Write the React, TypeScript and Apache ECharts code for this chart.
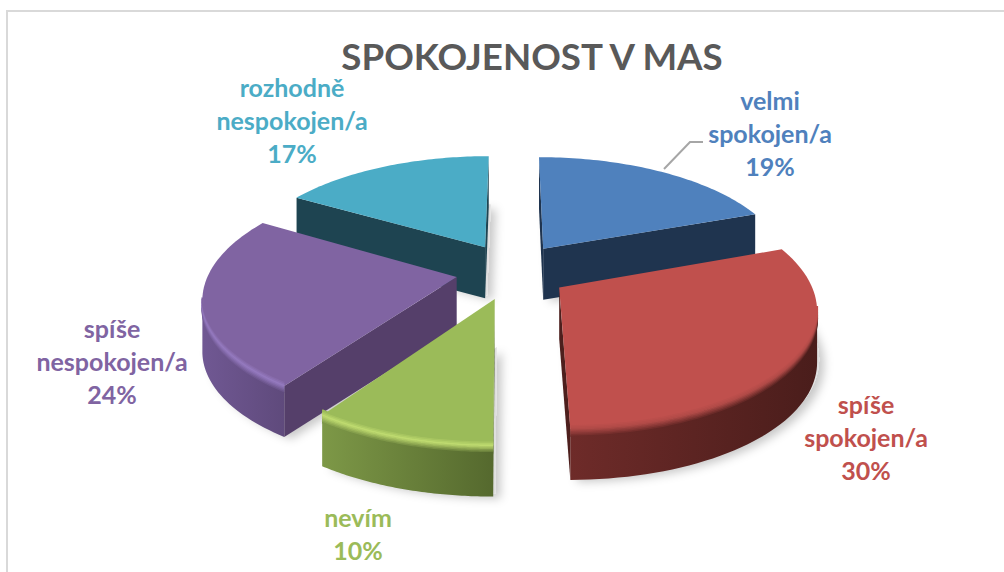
import React, { useEffect, useRef } from "react";
import * as echarts from "echarts";

const titleText = "SPOKOJENOST V MAS";
const categories = ["velmi\nspokojen/a", "spíše\nspokojen/a", "nevím", "spíše\nnespokojen/a", "rozhodně\nnespokojen/a"];
const shares = [19.45, 30.45, 9.75, 23.85, 16.5];

// Appearance of each slice, in the order of the data.
const topColors = ["#4f81bd", "#c0504d", "#9bbb59", "#8064a2", "#4bacc6"];
const faceColors = ["#1f344f", "#4d1f1d", "#56692f", "#553f6a", "#1e4451"];
const wallLeft = ["#1f344f", "#6e2b29", "#7d9847", "#705893", "#1e4451"];
const wallRight = ["#1f344f", "#4a1d1b", "#55692e", "#5f4a7c", "#1e4451"];
const glint = ["#4f81bd", "#b04a47", "#c0dc70", "#957ac0", "#4bacc6"];
const paintOrder = [1, 3, 4, 2, 0];
const labelAnchors = [[770, 133], [866, 437], [358, 533], [112, 361], [292, 120]];

const CX = 512, CY = 271, RADIUS = 240, EXPLODE_X = 54.5, EXPLODE_Y = 60, DEPTH = 51;
const SX = 1.03, SY = 0.47, PERSP = 0.00067;

function project(wx: number, wy: number, drop = 0): number[] {
  const s = 1 / (1 - PERSP * wy);
  return [CX + SX * wx * s, CY + SY * wy * s + drop];
}

function mix(a: string, b: string, t: number): string {
  const p = (c: string) => [1, 3, 5].map((i) => parseInt(c.slice(i, i + 2), 16));
  const A = p(a), B = p(b);
  return "rgb(" + A.map((v, i) => Math.round(v + (B[i] - v) * t)).join(",") + ")";
}

function renderSlice(params: any, api: any) {
  const i = params.dataIndex;
  const total = shares.reduce((s, v) => s + v, 0);
  const before = shares.slice(0, i).reduce((s, v) => s + v, 0);
  const a0 = (before / total) * Math.PI * 2;
  const a1 = ((before + api.value(0)) / total) * Math.PI * 2;
  const mid = (a0 + a1) / 2;
  const ox = EXPLODE_X * Math.sin(mid), oy = -EXPLODE_Y * Math.cos(mid);
  const pt = (a: number, r: number, drop = 0) =>
    project(ox + r * Math.sin(a), oy - r * Math.cos(a), drop);

  const N = 60;
  const angles: number[] = [];
  for (let k = 0; k <= N; k++) angles.push(a0 + ((a1 - a0) * k) / N);

  const apex = pt(0, 0);
  const arc = angles.map((a) => pt(a, RADIUS));
  const base = paintOrder[i] * 100;
  const children: any[] = [];

  // soft ground shadow
  const ground = [pt(0, 0, DEPTH - 4), ...angles.map((a) => pt(a, RADIUS, DEPTH - 4))];
  children.push({
    type: "polygon", z2: base,
    shape: { points: ground.map((p) => [p[0] + 2, p[1] + 1]) },
    style: { fill: "#dedede", shadowBlur: 10, shadowColor: "rgba(0,0,0,0.22)", shadowOffsetX: 5, shadowOffsetY: 5 },
  });

  // the two cut faces, drawn when they turn towards the viewer
  const quad = (a: number[], b: number[]) => [a, b, [b[0], b[1] + DEPTH], [a[0], a[1] + DEPTH]];
  const area = (q: number[][]) =>
    q.reduce((s, p, k) => {
      const n = q[(k + 1) % q.length];
      return s + p[0] * n[1] - n[0] * p[1];
    }, 0);
  const first = quad(apex, arc[0]);
  const last = quad(apex, arc[N]);
  if (area(first) < 0) children.push({ type: "polygon", z2: base + 1, shape: { points: first }, style: { fill: faceColors[i] } });
  if (area(last) > 0) children.push({ type: "polygon", z2: base + 1, shape: { points: last }, style: { fill: faceColors[i] } });

  // rim wall: only the run of the arc that runs right-to-left is seen
  const seen: number[][] = [];
  arc.forEach((p, k) => {
    const nb = k < N ? arc[k + 1] : arc[k - 1];
    const going = k < N ? p[0] > nb[0] : nb[0] > p[0];
    if (going) seen.push(p);
  });
  const grad = (l: string, r: string) => ({
    type: "linear", x: 0, y: 0, x2: 1, y2: 0,
    colorStops: [{ offset: 0, color: l }, { offset: 1, color: r }],
  });
  if (seen.length > 1) {
    const wall = [...seen, ...seen.slice().reverse().map((p) => [p[0], p[1] + DEPTH])];
    children.push({
      type: "polygon", z2: base + 2, shape: { points: wall },
      style: { fill: grad(wallLeft[i], wallRight[i]) },
    });
  }

  // top face
  children.push({
    type: "polygon", z2: base + 3, shape: { points: [apex, ...arc] },
    style: { fill: topColors[i] },
  });

  // rounded bevel between top and wall
  if (seen.length > 1) {
    const steps = 8;
    for (let s = 0; s <= steps; s++) {
      const t = s / steps;
      const stroke = (w: string) => (t < 0.4 ? mix(topColors[i], glint[i], t / 0.4) : mix(glint[i], w, (t - 0.4) / 0.6));
      children.push({
        type: "polyline", z2: base + 4 + steps - s,
        shape: { points: seen.map((p) => [p[0], p[1] + s * 1.5 - 5]) },
        style: { fill: "none", stroke: grad(stroke(wallLeft[i]), stroke(wallRight[i])), lineWidth: 2 },
      });
    }
  }

  // data label
  const value = api.value(0);
  children.push({
    type: "text", z2: 2000,
    x: labelAnchors[i][0], y: labelAnchors[i][1],
    style: {
      text: categories[i] + "\n" + Math.round(value) + "%",
      fill: topColors[i],
      font: "bold 25px Lato",
      lineHeight: 33,
      align: "center",
      verticalAlign: "middle",
    },
  });
  return { type: "group", children };
}

export default function App() {
  const ref = useRef<HTMLDivElement>(null);
  useEffect(() => {
    const chart = echarts.init(ref.current!, undefined, { renderer: "svg" });
    chart.setOption({
      animation: false,
      backgroundColor: "#ffffff",
      title: {
        text: titleText, left: 527, top: 32, textAlign: "center",
        textStyle: { fontFamily: "Lato", fontWeight: "bold", fontSize: 36.7, color: "#595959" },
      },
      graphic: [
        { type: "polyline", shape: { points: [[7, 572], [7, 11], [1004, 11]] }, style: { fill: "none", stroke: "#d9d9d9", lineWidth: 2 } },
        { type: "polyline", z: 5, shape: { points: [[664, 169], [690, 142], [703, 142]] }, style: { fill: "none", stroke: "#a6a6a6", lineWidth: 2 } },
      ],
      series: [{
        type: "custom",
        coordinateSystem: "none",
        renderItem: renderSlice,
        data: shares.map((v) => [v]),
        silent: true,
      }],
    });
    return () => chart.dispose();
  }, []);
  return <div ref={ref} style={{ position: "absolute", left: 0, top: 0, width: 1004, height: 572 }} />;
}
